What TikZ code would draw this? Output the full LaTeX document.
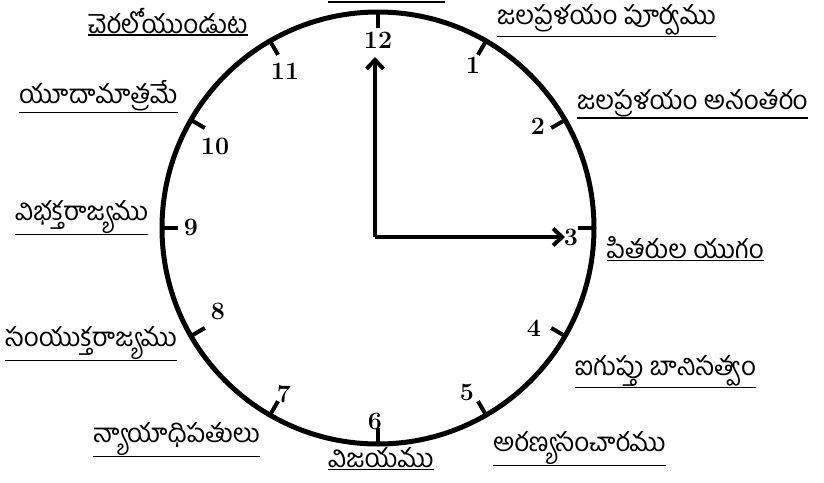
\documentclass[tikz,border=0pt]{standalone}
\usepackage{fontspec}
\newfontfamily\telugufont[Script=Telugu]{Hind Guntur}
\usetikzlibrary{arrows.meta,positioning}
\tikzset{
  era/.style={
    anchor=west,
    inner xsep=0pt,
    inner ysep=1pt,
    font=\telugufont\fontsize{26}{28}\selectfont
  },
  underline/.style={line width=1.3pt},
  dial/.style={line width=5pt},
  tick/.style={line width=4pt},
  hand/.style={line width=4pt, -{Straight Barb[length=9pt,width=17pt]}},
  numeral/.style={inner sep=0pt, font=\bfseries\fontsize{25}{27}\selectfont}
}
\begin{document}
\begin{tikzpicture}[x=1pt,y=-1pt]
  \useasboundingbox (0,0) rectangle (824,482);
  \coordinate (hub) at (378,228);
  \coordinate (pivot) at (375,237);

  % dial and hour marks
  \draw[dial] (hub) circle[radius=216];
  \foreach \h in {1,...,12}
    \draw[tick, shift={(hub)}] ({30*\h-90}:218) -- ({30*\h-90}:200);
  \foreach \h/\x/\y in {12/378/40, 1/473/65, 2/538/126, 3/571/237, 4/534/328, 5/467/392,
                        6/375/421, 7/284/394, 8/218/311, 9/191/227, 10/215/146, 11/285/71}
    \node[numeral] (num\h) at (\x,\y) {\h};

  % hands
  \coordinate (minute) at (375,57);
  \coordinate (hour) at (565,237);
  \draw[hand] (pivot) -- (minute);
  \draw[hand] (pivot) -- (hour);

  % era labels
  \node[era] (beforeflood) at (497,20) {జలప్రళయం పూర్వము};
  \node[era] (afterflood) at (577,103) {జలప్రళయం అనంతరం};
  \node[era] (patriarchs) at (607,248) {పితరుల యుగం};
  \node[era] (egypt) at (575,371) {ఐగుప్తు బానిసత్వం};
  \node[era] (wilderness) at (493,448) {అరణ్యసంచారము};
  \node[era] (conquest) at (328,458) {విజయము};
  \node[era] (judges) at (93,439) {న్యాయాధిపతులు};
  \node[era] (united) at (5,343) {సంయుక్తరాజ్యము};
  \node[era] (divided) at (15,217) {విభక్తరాజ్యము};
  \node[era] (judah) at (19,96) {యూదామాత్రమే};
  \node[era] (captivity) at (88,21) {చెరలోయుండుట};
  \foreach \n in {beforeflood,afterflood,patriarchs,egypt,wilderness,conquest,
                  judges,united,divided,judah,captivity}
    \draw[underline] (\n.south west) -- (\n.south east);

  % label cut off at the top edge
  \coordinate (creation-w) at (328,2);
  \coordinate (creation-e) at (445,2);
  \draw[underline] (creation-w) -- (creation-e);
\end{tikzpicture}
\end{document}
